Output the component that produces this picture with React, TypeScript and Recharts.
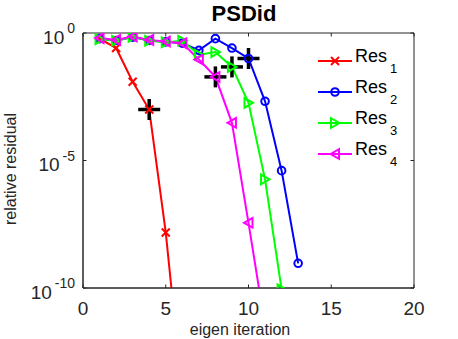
import React from 'react';
import { ComposedChart, Line, Scatter, XAxis, YAxis, Legend, ReferenceArea } from 'recharts';

// relative residual per eigen iteration (iteration = index + 1)
const res1 = [0.6, 0.257, 0.0123, 1.0e-3, 1.51e-8, 6.3e-15];
const res2 = [0.6, 0.51, 0.69, 0.51, 0.45, 0.4, 0.21, 0.6, 0.257, 0.1, 2.1e-3, 4.0e-6, 9.3e-10];
const res3 = [0.575, 0.5, 0.71, 0.5, 0.437, 0.5, 0.141, 0.178, 0.0468, 1.82e-3, 1.82e-6, 8.9e-11];
const res4 = [0.63, 0.537, 0.724, 0.537, 0.468, 0.4, 0.091, 0.019, 3.0e-4, 3.6e-8, 3.2e-12];

const seriesNames = ['Res1', 'Res2', 'Res3', 'Res4'];
const seriesColors = ['#ff0000', '#0000ff', '#00ff00', '#ff00ff'];
const seriesMarkers = ['x', 'o', '>', '<'];
const seriesValues = [res1, res2, res3, res4];
// iteration at which each series is marked with a black "+"
const convergedAt = [4, 10, 9, 8];

const xTicks = [0, 5, 10, 15, 20];
const yTicks = [1e-10, 1e-5, 1];

const toPoints = (vals: number[]) => vals.map((v, i) => ({ x: i + 1, y: v }));
const plusPoints = convergedAt.map((it, s) => ({ x: it, y: seriesValues[s][it - 1] }));

const W = 458;
const H = 339;
const PL = 83;
const PR = 414;
const PT = 33;
const PB = 288;
const AXC = '#262626';
const FONT = '"Liberation Sans", Arial, Helvetica, sans-serif';

function Marker({ kind, cx, cy, color }: { kind: string; cx: number; cy: number; color: string }) {
  const s = 4;
  if (kind === 'x') {
    return (
      <g stroke={color} strokeWidth={2} fill="none">
        <line x1={cx - s} y1={cy - s} x2={cx + s} y2={cy + s} />
        <line x1={cx - s} y1={cy + s} x2={cx + s} y2={cy - s} />
      </g>
    );
  }
  if (kind === 'o') {
    return <circle cx={cx} cy={cy} r={3.8} stroke={color} strokeWidth={2} fill="none" />;
  }
  if (kind === '>') {
    return (
      <polygon
        points={`${cx + 4.5},${cy} ${cx - 4},${cy - 4.8} ${cx - 4},${cy + 4.8}`}
        stroke={color}
        strokeWidth={2}
        fill="none"
      />
    );
  }
  return (
    <polygon
      points={`${cx - 4.5},${cy} ${cx + 4},${cy - 4.8} ${cx + 4},${cy + 4.8}`}
      stroke={color}
      strokeWidth={2}
      fill="none"
    />
  );
}

const makeDot = (kind: string, color: string) => (props: any) => {
  const { cx, cy, index } = props;
  if (cx == null || cy == null || isNaN(cx) || isNaN(cy)) return <g key={`d${index}`} />;
  return (
    <g key={`d${index}`}>
      <Marker kind={kind} cx={cx} cy={cy} color={color} />
    </g>
  );
};

const PlusShape = (props: any) => {
  const { cx, cy } = props;
  if (cx == null || cy == null) return <g />;
  return (
    <g stroke="#000" strokeWidth={3.5}>
      <line x1={cx - 11} y1={cy} x2={cx + 11} y2={cy} />
      <line x1={cx} y1={cy - 10.5} x2={cx} y2={cy + 10.5} />
    </g>
  );
};

const XTick = (props: any) => {
  const { x, payload } = props;
  return (
    <g>
      <line x1={x} y1={PB} x2={x} y2={PB - 3.5} stroke={AXC} strokeWidth={1} />
      <line x1={x} y1={PT} x2={x} y2={PT + 3.5} stroke={AXC} strokeWidth={1} />
      <text x={x} y={315} textAnchor="middle" fontSize={19} fontFamily={FONT} fill={AXC}>
        {payload.value}
      </text>
    </g>
  );
};

const YTick = (props: any) => {
  const { y, payload } = props;
  const exp = Math.round(Math.log10(payload.value));
  return (
    <g>
      <line x1={PL} y1={y} x2={PL + 3.5} y2={y} stroke={AXC} strokeWidth={1} />
      <line x1={PR} y1={y} x2={PR - 3.5} y2={y} stroke={AXC} strokeWidth={1} />
      <text x={75} y={y + 10.5} textAnchor="end" fontFamily={FONT} fill={AXC}>
        <tspan fontSize={19}>10</tspan>
        <tspan fontSize={14} dx={3} dy={-10.5}>
          {exp}
        </tspan>
      </text>
    </g>
  );
};

const LegendContent = (props: any) => {
  const payload = (props.payload || []).filter((p: any) => seriesNames.includes(p.value));
  return (
    <svg width={130} height={130} style={{ overflow: 'visible' }}>
      {payload.map((p: any, i: number) => {
        const idx = seriesNames.indexOf(p.value);
        const yy = 21 + i * 31;
        const color = seriesColors[idx];
        return (
          <g key={p.value}>
            <line x1={8} y1={yy} x2={42} y2={yy} stroke={color} strokeWidth={2} />
            <Marker kind={seriesMarkers[idx]} cx={25} cy={yy} color={color} />
            <text x={45} y={yy + 1} fontFamily={FONT} fill="#000">
              <tspan fontSize={18}>Res</tspan>
              <tspan fontSize={13} dx={3} dy={10.5}>
                {p.value.slice(3)}
              </tspan>
            </text>
          </g>
        );
      })}
    </svg>
  );
};

export default function App() {
  return (
    <div style={{ position: 'absolute', left: 0, top: 0, width: W, height: H, background: '#fff' }}>
      <ComposedChart width={W} height={H} margin={{ top: PT, right: W - PR, bottom: 0, left: 0 }}>
        <XAxis
          xAxisId={0}
          type="number"
          dataKey="x"
          domain={[0, 20]}
          ticks={xTicks}
          allowDataOverflow
          height={H - PB}
          axisLine={{ stroke: AXC, strokeWidth: 1 }}
          tickLine={false}
          tick={<XTick />}
          interval={0}
        />
        <YAxis
          yAxisId={0}
          type="number"
          dataKey="y"
          scale="log"
          domain={[1e-10, 1]}
          ticks={yTicks}
          allowDataOverflow
          width={PL}
          axisLine={{ stroke: AXC, strokeWidth: 1 }}
          tickLine={false}
          tick={<YTick />}
          interval={0}
        />
        <ReferenceArea x1={0} x2={20} y1={1e-10} y2={1} fill="none" fillOpacity={0} stroke={AXC} strokeWidth={1} />
        {seriesValues.map((vals, s) => (
          <Line
            key={seriesNames[s]}
            name={seriesNames[s]}
            data={toPoints(vals)}
            dataKey="y"
            type="linear"
            stroke={seriesColors[s]}
            strokeWidth={2}
            dot={makeDot(seriesMarkers[s], seriesColors[s])}
            activeDot={false}
            isAnimationActive={false}
          />
        ))}
        <Scatter
          name="converged"
          data={plusPoints}
          dataKey="y"
          shape={<PlusShape />}
          legendType="none"
          isAnimationActive={false}
        />
        <Legend
          layout="vertical"
          align="center"
          verticalAlign="middle"
          content={<LegendContent />}
          wrapperStyle={{ position: 'absolute', left: 310, top: 40, width: 130, height: 130 }}
        />
        <text x={244} y={21} textAnchor="middle" fontSize={22} fontWeight="bold" fontFamily={FONT} fill="#000">
          PSDid
        </text>
        <text x={240} y={335} textAnchor="middle" fontSize={16} fontFamily={FONT} fill={AXC}>
          eigen iteration
        </text>
        <text transform="translate(16,169) rotate(-90)" textAnchor="middle" fontSize={16} fontFamily={FONT} fill={AXC}>
          relative residual
        </text>
      </ComposedChart>
    </div>
  );
}
